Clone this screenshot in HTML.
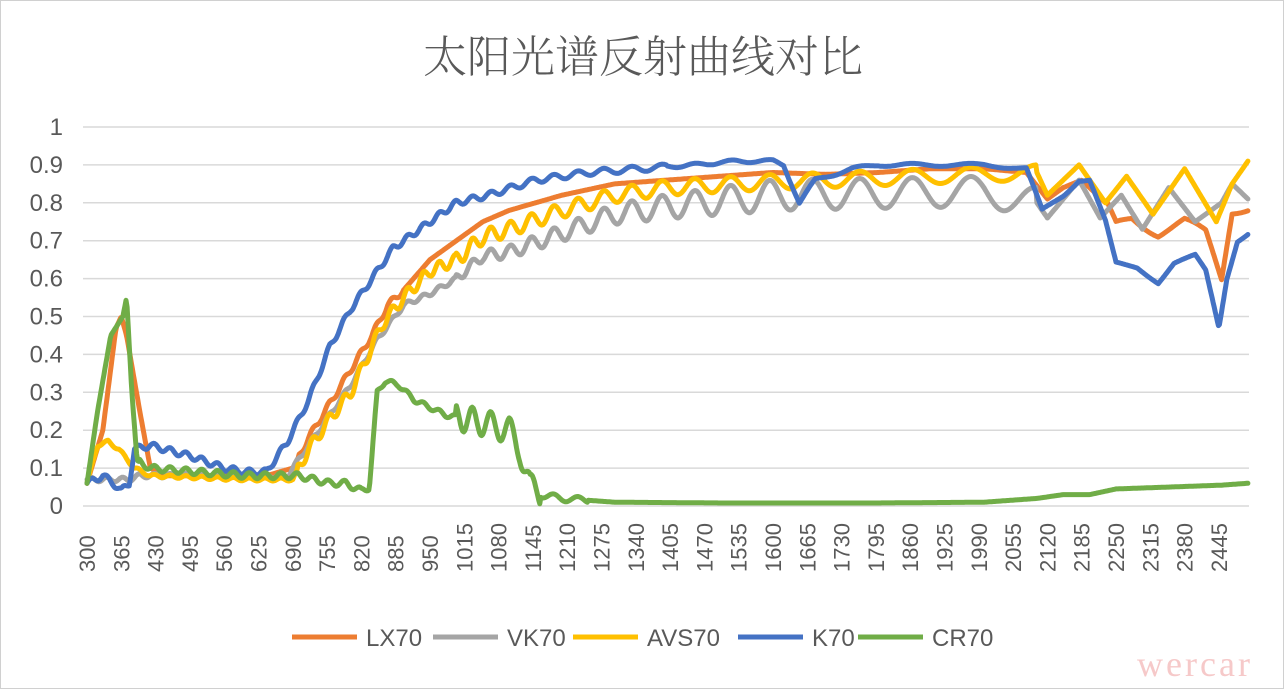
<!DOCTYPE html>
<html><head><meta charset="utf-8"><style>
html,body{margin:0;padding:0;background:#fff;}
svg{display:block;font-family:"Liberation Sans","Noto Sans CJK SC",sans-serif;}
</style></head><body>
<svg id="s" width="1287" height="693" viewBox="0 0 1287 693" xmlns="http://www.w3.org/2000/svg">
<rect x="0.5" y="0.5" width="1283" height="688" fill="#fff" stroke="#d0d0d0"/>
<text x="643" y="72" text-anchor="middle" font-size="44" fill="#595959" font-family="'Noto Serif CJK SC','Noto Sans CJK SC',sans-serif" font-weight="300">太阳光谱反射曲线对比</text>
<g id="grid" stroke="#d9d9d9" stroke-width="1.5"></g>
<g id="ylab" font-size="24" fill="#595959" text-anchor="end"></g>
<g id="xlab" font-size="22" fill="#595959"></g>
<g id="series" fill="none" stroke-width="5" stroke-linejoin="round" stroke-linecap="round"></g>
<g font-size="24" fill="#595959">
<line x1="292" y1="637" x2="357" y2="637" stroke="#ed7d31" stroke-width="5"/><text x="366" y="646">LX70</text>
<line x1="433" y1="637" x2="498" y2="637" stroke="#a5a5a5" stroke-width="5"/><text x="507" y="646">VK70</text>
<line x1="573" y1="637" x2="638" y2="637" stroke="#ffc000" stroke-width="5"/><text x="647" y="646">AVS70</text>
<line x1="738" y1="637" x2="803" y2="637" stroke="#4472c4" stroke-width="5"/><text x="812" y="646">K70</text>
<line x1="858" y1="637" x2="923" y2="637" stroke="#70ad47" stroke-width="5"/><text x="932" y="646">CR70</text>
</g>
<text x="1195" y="676" font-size="36" fill="#f6c9c9" text-anchor="middle" font-family="'Liberation Serif',serif" letter-spacing="3">wercar</text>
</svg>
<script>
var NS="http://www.w3.org/2000/svg";
function X(nm){return 87+(nm-300)*0.5277;}
function Y(v){return 506-v*379;}
var g=document.getElementById('grid'),yl=document.getElementById('ylab'),xl=document.getElementById('xlab');
for(var i=0;i<=10;i++){var y=Y(i/10);var l=document.createElementNS(NS,'line');l.setAttribute('x1',83);l.setAttribute('x2',1249);l.setAttribute('y1',y);l.setAttribute('y2',y);g.appendChild(l);
var t=document.createElementNS(NS,'text');t.setAttribute('x',63);t.setAttribute('y',y+8);t.textContent=(i==0?'0':i==10?'1':(i/10).toFixed(1));yl.appendChild(t);}
for(var nm=300;nm<=2445;nm+=65){var t=document.createElementNS(NS,'text');var x=X(nm)+8;t.setAttribute('transform','translate('+x+',572) rotate(-90)');t.setAttribute('x',0);t.setAttribute('y',0);t.textContent=nm;xl.appendChild(t);}
function interp(k,nm){for(var i=0;i<k.length-1;i++){if(nm<=k[i+1][0]){var a=k[i],b=k[i+1];return a[1]+(b[1]-a[1])*(nm-a[0])/(b[0]-a[0]);}}return k[k.length-1][1];}
function phase(nm){
 return nm<1000? nm/30*2*Math.PI : (1000/30+ (nm-1000)/ (32+(nm-1000)*0.03))*2*Math.PI;}
function ripple(nm,amp){return amp(nm)*Math.sin(phase(nm));}
var S=[
{c:'#ed7d31',k:[[300,.06],[330,.2],[355,.47],[365,.5],[375,.45],[400,.25],[420,.1],[450,.08],[600,.08],[640,.08],[690,.1],[720,.18],[760,.27],[800,.36],[840,.45],[870,.53],[900,.57],[950,.65],[1000,.7],[1050,.75],[1100,.78],[1200,.82],[1300,.85],[1400,.86],[1500,.87],[1600,.88],[1700,.875],[1800,.88],[1900,.89],[2000,.89],[2080,.88],[2120,.81],[2150,.84],[2185,.86],[2230,.8],[2250,.74],[2280,.76],[2330,.72],[2380,.75],[2420,.72],[2450,.6],[2470,.78],[2500,.79]],a:function(n){return n>700&&n<900?.008:n>2230?.012:0;}},
{c:'#a5a5a5',k:[[300,.07],[380,.07],[400,.08],[600,.08],[680,.08],[700,.12],[750,.22],[800,.32],[850,.44],[900,.53],[950,.56],[1000,.6],[1050,.66],[1100,.67],[1200,.72],[1300,.77],[1400,.79],[1600,.82],[2000,.83],[2100,.8],[2120,.76],[2180,.86],[2220,.76],[2260,.82],[2300,.73],[2350,.84],[2400,.75],[2450,.8],[2470,.85],[2500,.81]],a:function(n){return n<1000?.006:n<2100?Math.min(.04,.012+(n-1000)*.00005):0;}},
{c:'#ffc000',k:[[300,.06],[320,.16],[340,.17],[360,.15],[390,.1],[420,.08],[600,.07],[690,.07],[720,.15],[760,.23],[800,.3],[840,.42],[860,.48],[900,.55],[950,.62],[1000,.65],[1050,.71],[1100,.73],[1200,.78],[1300,.82],[1400,.84],[1600,.855],[1800,.865],[2000,.875],[2100,.88],[2120,.82],[2180,.9],[2230,.8],[2270,.87],[2320,.77],[2380,.89],[2440,.75],[2470,.85],[2500,.91]],a:function(n){return n<700?.004:n<1000?.015:n<2100?.02:0;}},
{c:'#4472c4',k:[[300,.06],[330,.08],[350,.06],[365,.04],[380,.06],[390,.15],[420,.16],[500,.13],[560,.1],[600,.09],[640,.09],[680,.17],[720,.28],[760,.42],[800,.52],[840,.6],[880,.68],[920,.72],[960,.76],[1000,.8],[1060,.82],[1150,.86],[1250,.88],[1350,.89],[1450,.9],[1530,.91],[1600,.91],[1620,.9],[1650,.8],[1680,.86],[1750,.89],[1800,.9],[1900,.9],[2000,.9],[2080,.89],[2110,.78],[2150,.82],[2180,.86],[2200,.86],[2230,.75],[2250,.64],[2290,.63],[2330,.59],[2360,.64],[2400,.66],[2420,.62],[2445,.47],[2460,.6],[2480,.7],[2500,.72]],a:function(n){return n<1400?.008:.004;}},
{c:'#70ad47',k:[[300,.06],[320,.25],[345,.45],[368,.5],[375,.55],[385,.3],[395,.12],[420,.1],[600,.08],[700,.08],[760,.06],[790,.06],[820,.04],[835,.05],[850,.3],[865,.33],[890,.32],[920,.28],[980,.24],[1050,.22],[1100,.2],[1120,.15],[1140,.05],[1160,.03],[1200,.02],[1300,.01],[1500,.008],[1800,.008],[2000,.01],[2100,.02],[2150,.03],[2200,.03],[2250,.045],[2350,.05],[2450,.055],[2500,.06]],a:function(n){return n<400?0:n<850?.008:n<1000?.006:n<1160?.035:n<1250?.008:0;}}
];
var sg=document.getElementById('series');
S.forEach(function(s){var d='';for(var nm=300;nm<=2500;nm+=2){var v=interp(s.k,nm)+ripple(nm,s.a);d+=(nm==300?'M':'L')+X(nm).toFixed(1)+','+Y(v).toFixed(1);}
var p=document.createElementNS(NS,'path');p.setAttribute('d',d);p.setAttribute('stroke',s.c);sg.appendChild(p);});
</script>
</body></html>
